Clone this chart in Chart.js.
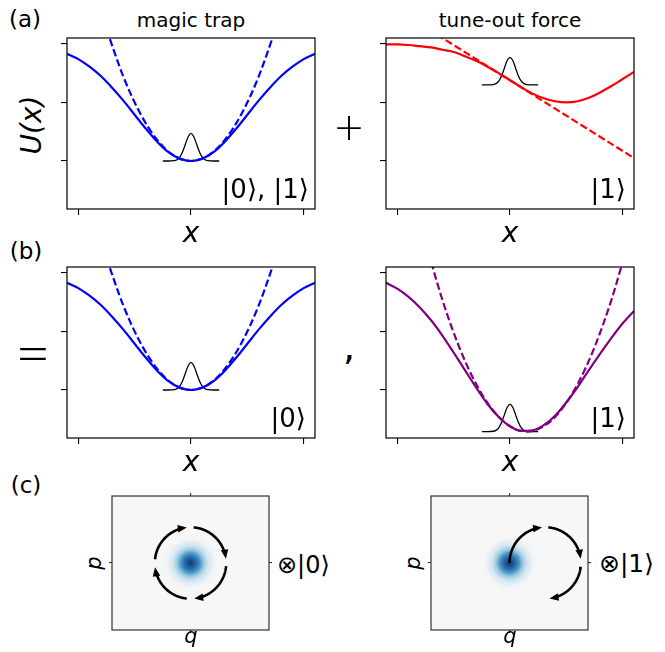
<!DOCTYPE html>
<html>
<head>
<meta charset="utf-8">
<script src="https://cdn.jsdelivr.net/npm/chart.js@4.4.1/dist/chart.umd.min.js"></script>
<style>
  body { margin: 0; background: #fff; }
  #fig { position: relative; width: 665px; height: 652px; font-family: "DejaVu Sans", sans-serif; color: #000; overflow: hidden; }
  #fig canvas { position: absolute; }
  .t { position: absolute; white-space: nowrap; line-height: 1; }
  .c { transform: translate(-50%, -84.6%); }
  .r { transform: translate(-100%, -84.6%); }
  .l { transform: translate(0, -84.6%); }
  .rot { transform: translate(-50%, -50%) rotate(-90deg); }
  .mid { transform: translate(-50%, -50%); }
  .thin { font-family: Lato, "DejaVu Sans", sans-serif; font-weight: 300; }
</style>
</head>
<body>
<div id="fig">
  <canvas id="cA1" width="260" height="183" style="left:59px;top:34px"></canvas>
  <canvas id="cA2" width="260" height="183" style="left:378px;top:34px"></canvas>
  <canvas id="cB1" width="260" height="183" style="left:59px;top:263px"></canvas>
  <canvas id="cB2" width="260" height="183" style="left:378px;top:263px"></canvas>
  <canvas id="cC1" width="165" height="142" style="left:108px;top:492px"></canvas>
  <canvas id="cC2" width="165" height="142" style="left:427px;top:492px"></canvas>

  <div class="t c" style="left:25px;top:27px;font-size:23px">(a)</div>
  <div class="t c" style="left:26px;top:259px;font-size:23px">(b)</div>
  <div class="t c" style="left:26px;top:493px;font-size:23px">(c)</div>

  <div class="t c" style="left:191px;top:27px;font-size:20px">magic trap</div>
  <div class="t c" style="left:510px;top:27px;font-size:20px">tune-out force</div>

  <div class="t rot" style="left:32px;top:125px;font-size:28px;font-style:italic">U(x)</div>
  <div class="t c" style="left:191px;top:243px;font-size:28px;font-style:italic">x</div>
  <div class="t c" style="left:510px;top:243px;font-size:28px;font-style:italic">x</div>
  <div class="t c" style="left:191px;top:472px;font-size:28px;font-style:italic">x</div>
  <div class="t c" style="left:510px;top:472px;font-size:28px;font-style:italic">x</div>

  <div class="t mid thin" style="left:349px;top:126px;font-size:50px">+</div>
  <div class="t mid thin" style="left:33px;top:351px;font-size:62px">=</div>
  <div class="t c" style="left:349px;top:360px;font-size:38px">,</div>

  <div class="t r" style="left:309px;top:198px;font-size:26px">|0⟩, |1⟩</div>
  <div class="t r" style="left:626px;top:198px;font-size:26px">|1⟩</div>
  <div class="t r" style="left:306px;top:427px;font-size:26px">|0⟩</div>
  <div class="t r" style="left:626px;top:427px;font-size:26px">|1⟩</div>

  <div class="t l" style="left:277px;top:573px;font-size:24px">⊗|0⟩</div>
  <div class="t l" style="left:599px;top:572px;font-size:25px">⊗|1⟩</div>

  <div class="t rot" style="left:94px;top:563px;font-size:21px;font-style:italic">p</div>
  <div class="t rot" style="left:413px;top:563px;font-size:21px;font-style:italic">p</div>
  <div class="t c" style="left:191px;top:644px;font-size:21px;font-style:italic">q</div>
  <div class="t c" style="left:510px;top:644px;font-size:21px;font-style:italic">q</div>
</div>

<script>
// potentials, x in trap units
const xGrid = [-1.1, -1.0, -0.9, -0.8, -0.7, -0.6, -0.5, -0.4, -0.3, -0.2, -0.1, 0,
               0.1, 0.2, 0.3, 0.4, 0.5, 0.6, 0.7, 0.8, 0.9, 1.0, 1.1];
const magicU = [1.83, 1.74, 1.61, 1.45, 1.25, 1.03, 0.79, 0.55, 0.33, 0.15, 0.04, 0,
                0.04, 0.15, 0.33, 0.55, 0.79, 1.03, 1.25, 1.45, 1.61, 1.74, 1.83];
const tuneU = [1.99, 1.99, 1.98, 1.96, 1.94, 1.90, 1.86, 1.79, 1.71, 1.61, 1.50, 1.38,
               1.26, 1.15, 1.07, 1.02, 1.00, 1.02, 1.08, 1.17, 1.28, 1.40, 1.52];
const totalU = [1.83, 1.73, 1.59, 1.41, 1.19, 0.93, 0.64, 0.34, 0.04, -0.24, -0.46, -0.62,
                -0.70, -0.69, -0.60, -0.44, -0.21, 0.05, 0.34, 0.62, 0.89, 1.14, 1.35];

// harmonic (dashed) approximations
const harmX = [-0.75, -0.6, -0.45, -0.3, -0.15, 0, 0.15, 0.3, 0.45, 0.6, 0.75];
const harmU = [2.25, 1.44, 0.81, 0.36, 0.09, 0, 0.09, 0.36, 0.81, 1.44, 2.25];
const tangentX = [-0.65, 1.1];
const tangentU = [2.16, 0.05];
const totalHarmX = [-0.75, -0.6, -0.45, -0.3, -0.15, 0, 0.15, 0.3, 0.45, 0.6, 0.75, 0.9, 1.05];
const totalHarmU = [2.53, 1.54, 0.73, 0.10, -0.35, -0.62, -0.71, -0.62, -0.35, 0.10, 0.73, 1.54, 2.53];

// wave packet sketch and its baseline in each panel
const packetX = [-0.25, -0.2, -0.15, -0.125, -0.1, -0.075, -0.05, -0.025, 0,
                 0.025, 0.05, 0.075, 0.1, 0.125, 0.15, 0.2, 0.25];
const packetH = [0, 0, 0.005, 0.021, 0.064, 0.153, 0.285, 0.415, 0.47,
                 0.415, 0.285, 0.153, 0.064, 0.021, 0.005, 0, 0];
const packetBase = [0, 1.30, 0, -0.71];

const xTicks = [-1, 0, 1];
const yTicks = [0, 1, 2];

// phase space (c): packet centre and rotation arcs (degrees, clockwise)
const blobQ = [0, 0];
const blobP = [0, 0];
const arcCenterQ = [0, 2];
const arcCenterP = [0, 0];
const arcRadius = [2, 2];
const arcStarts = [[174, 85, -5, -96], [180, 85, -6]];
const arcEnds = [[96, 7, -84, -173], [95, 7, -83]];
const phaseTicks = [0];

const pts = (xs, ys, off = 0) => xs.map((x, i) => ({ x: x, y: ys[i] + off }));

const framePlugin = {
  id: 'frame',
  beforeDatasetsDraw(chart, args, o) {
    if (!o.fill) return;
    const a = chart.chartArea;
    chart.ctx.save();
    chart.ctx.fillStyle = o.fill;
    chart.ctx.fillRect(a.left, a.top, a.right - a.left, a.bottom - a.top);
    chart.ctx.restore();
  },
  afterDraw(chart, args, o) {
    const a = chart.chartArea, ctx = chart.ctx;
    ctx.save();
    ctx.strokeStyle = o.color || '#000';
    ctx.lineWidth = 1.2;
    ctx.strokeRect(a.left, a.top, a.right - a.left, a.bottom - a.top);
    ctx.restore();
  }
};

const tickGrid = { drawOnChartArea: false, drawTicks: true, tickLength: 6, color: '#000', lineWidth: 1.1 };

function potChart(id, sets) {
  return new Chart(document.getElementById(id), {
    type: 'line',
    data: { datasets: sets },
    options: {
      responsive: false,
      animation: false,
      events: [],
      layout: { padding: { top: 4, right: 4 }, autoPadding: false },
      plugins: { legend: { display: false }, tooltip: { enabled: false }, frame: {} },
      elements: { point: { radius: 0 }, line: { cubicInterpolationMode: 'monotone' } },
      scales: {
        x: {
          type: 'linear', min: -1.1, max: 1.1,
          afterBuildTicks: s => { s.ticks = xTicks.map(v => ({ value: v })); },
          afterFit: s => { s.height = 8; },
          ticks: { display: false }, grid: tickGrid, border: { display: false }
        },
        y: {
          type: 'linear', min: -0.82, max: 2.1,
          afterBuildTicks: s => { s.ticks = yTicks.map(v => ({ value: v })); },
          afterFit: s => { s.width = 8; },
          ticks: { display: false }, grid: tickGrid, border: { display: false }
        }
      }
    },
    plugins: [framePlugin]
  });
}

const solid = (data, color) => ({ data, borderColor: color, borderWidth: 2.2, clip: 0 });
const dashed = (data, color) => ({ data, borderColor: color, borderWidth: 2.2, borderDash: [7.4, 3.2], clip: 0 });
const packet = base => ({ data: pts(packetX, packetH, base), borderColor: '#000', borderWidth: 1.3, clip: 0 });

potChart('cA1', [solid(pts(xGrid, magicU), '#0000ff'), dashed(pts(harmX, harmU), '#0000ff'), packet(packetBase[0])]);
potChart('cA2', [solid(pts(xGrid, tuneU), '#ff0000'), dashed(pts(tangentX, tangentU), '#ff0000'), packet(packetBase[1])]);
potChart('cB1', [solid(pts(xGrid, magicU), '#0000ff'), dashed(pts(harmX, harmU), '#0000ff'), packet(packetBase[2])]);
potChart('cB2', [solid(pts(xGrid, totalU), '#800080'), dashed(pts(totalHarmX, totalHarmU), '#800080'), packet(packetBase[3])]);

// RdBu-like ramp for the Wigner blob
const blobSigma = 0.55;
const blobStops = [[0, '#08396f'], [0.22, '#2a70b0'], [0.34, '#4f9bc7'], [0.45, '#99c8e0'],
                   [0.6, '#d2e5f0'], [0.8, '#f0f3f6'], [1, 'rgba(247,247,247,0)']];
const blobReach = 3.0;

function blobRadius(chart) {
  const sx = chart.scales.x;
  const r = sx ? blobReach * blobSigma * Math.abs(sx.getPixelForValue(1) - sx.getPixelForValue(0)) : NaN;
  return Number.isFinite(r) && r > 0 ? r : 30;
}

function blobFill(c) {
  const sx = c.chart.scales.x, sy = c.chart.scales.y;
  if (!c.raw || !sx || !sy) return '#08396f';
  const px = sx.getPixelForValue(c.raw.x), py = sy.getPixelForValue(c.raw.y);
  const R = blobRadius(c.chart);
  if (![px, py, R].every(Number.isFinite)) return '#08396f';
  const g = c.chart.ctx.createRadialGradient(px, py, 0, px, py, R);
  blobStops.forEach(s => g.addColorStop(s[0], s[1]));
  return g;
}

const arcPlugin = {
  id: 'arcs',
  afterDatasetsDraw(chart, args, o) {
    const ctx = chart.ctx, xs = chart.scales.x, ys = chart.scales.y;
    ctx.save();
    ctx.strokeStyle = '#000';
    ctx.fillStyle = '#000';
    ctx.lineWidth = 2.6;
    o.starts.forEach((a0, i) => {
      const a1 = o.ends[i], n = 60, p = [];
      for (let k = 0; k <= n; k++) {
        const t = (a0 + (a1 - a0) * k / n) * Math.PI / 180;
        p.push([xs.getPixelForValue(o.cq + o.r * Math.cos(t)), ys.getPixelForValue(o.cp + o.r * Math.sin(t))]);
      }
      const [tx, ty] = p[n];
      const [bx, by] = p[n - 3];
      let dx = tx - bx, dy = ty - by;
      const d = Math.hypot(dx, dy);
      dx /= d; dy /= d;
      ctx.beginPath();
      ctx.moveTo(p[0][0], p[0][1]);
      for (let k = 1; k <= n; k++) {
        if (Math.hypot(p[k][0] - tx, p[k][1] - ty) < 5) break;
        ctx.lineTo(p[k][0], p[k][1]);
      }
      ctx.stroke();
      const L = 9, W = 3.8;
      ctx.beginPath();
      ctx.moveTo(tx, ty);
      ctx.lineTo(tx - dx * L - dy * W, ty - dy * L + dx * W);
      ctx.lineTo(tx - dx * L + dy * W, ty - dy * L - dx * W);
      ctx.closePath();
      ctx.fill();
    });
    ctx.restore();
  }
};

const phaseAxis = (pos, lim, horiz) => ({
  type: 'linear', position: pos, min: -lim, max: lim,
  afterBuildTicks: s => { s.ticks = phaseTicks.map(v => ({ value: v })); },
  afterFit: s => { if (horiz) s.height = 4; else s.width = 4; },
  ticks: { display: false },
  grid: { drawOnChartArea: false, drawTicks: true, tickLength: 3, color: '#333', lineWidth: 1.1 },
  border: { display: false }
});

function phaseChart(id, i) {
  return new Chart(document.getElementById(id), {
    type: 'scatter',
    data: {
      datasets: [{
        data: [{ x: blobQ[i], y: blobP[i] }],
        borderWidth: 0,
        clip: false,
        pointRadius: c => blobRadius(c.chart),
        pointHoverRadius: c => blobRadius(c.chart),
        backgroundColor: blobFill,
        pointBackgroundColor: blobFill
      }]
    },
    options: {
      responsive: false,
      animation: false,
      events: [],
      layout: { padding: 0, autoPadding: false },
      plugins: {
        legend: { display: false }, tooltip: { enabled: false },
        frame: { fill: '#f7f7f7', color: '#333' },
        arcs: { cq: arcCenterQ[i], cp: arcCenterP[i], r: arcRadius[i], starts: arcStarts[i], ends: arcEnds[i] }
      },
      scales: {
        x: phaseAxis('bottom', 4.4, true),
        x2: phaseAxis('top', 4.4, true),
        y: phaseAxis('left', 3.75, false),
        y2: phaseAxis('right', 3.75, false)
      }
    },
    plugins: [framePlugin, arcPlugin]
  });
}

phaseChart('cC1', 0);
phaseChart('cC2', 1);
</script>
</body>
</html>
